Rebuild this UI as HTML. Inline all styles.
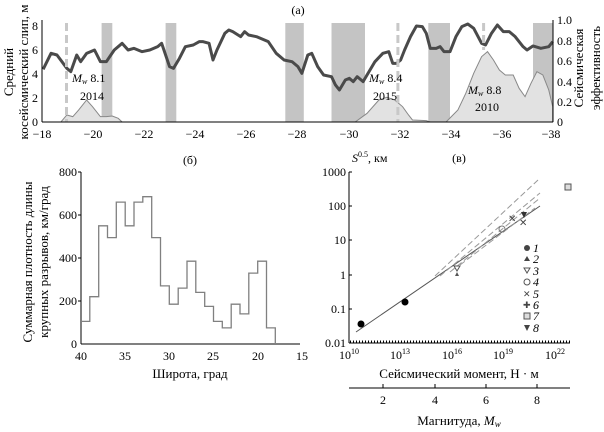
<!DOCTYPE html>
<html><head><meta charset="utf-8"><style>
body{margin:0;background:#fff}
svg{display:block;font-family:"Liberation Serif","DejaVu Serif",serif;}
</style></head><body>
<svg width="604" height="432" viewBox="0 0 604 432" xmlns="http://www.w3.org/2000/svg">
<!-- panel a -->
<text x="298" y="14" font-size="12" text-anchor="middle">(а)</text>
<g fill="#c4c4c4">
<rect x="101.6" y="23" width="10.7" height="99"/>
<rect x="165.6" y="23" width="10.7" height="99"/>
<rect x="285.3" y="23" width="18.5" height="99"/>
<rect x="331.5" y="23" width="33.5" height="99"/>
<rect x="428.3" y="23" width="21.7" height="99"/>
<rect x="533" y="23" width="20" height="99"/>
</g>
<g transform="translate(-8.2,0) scale(0.395,0.3333)">
<path fill="#e2e2e2" stroke="#888" stroke-width="1" vector-effect="non-scaling-stroke" d="M175,366 L190,345 205,350 220,330 240,300 255,320 275,350 290,350 305,348 320,355 330,366 Z M920,366 L950,340 980,300 1000,292 1020,300 1040,320 1055,345 1065,360 1100,362 1110,366Z M1150,366 L1180,330 1200,280 1220,220 1240,170 1255,155 1270,180 1285,210 1300,225 1320,225 1335,265 1350,290 1365,250 1380,215 1395,225 1410,270 1420,320 1420,366Z"/>
<path fill="none" stroke="#4a4a4a" stroke-width="3" vector-effect="non-scaling-stroke" stroke-linejoin="round" d="M130,208 L150,160 165,165 190,205 200,215 215,165 225,185 240,160 260,150 275,185 290,185 310,150 330,130 345,150 360,145 380,155 400,150 420,140 430,130 450,200 460,205 475,175 490,140 510,135 525,125 535,125 550,130 560,180 570,150 590,100 600,90 610,95 630,110 640,95 650,105 670,110 700,125 720,160 740,180 760,185 775,200 785,220 800,165 810,160 825,200 840,225 860,230 870,255 880,270 895,240 905,235 915,245 925,230 940,245 955,215 970,185 990,160 1005,155 1015,190 1025,190 1035,180 1045,150 1060,110 1075,78 1090,80 1100,100 1110,145 1125,145 1135,140 1145,155 1160,155 1175,110 1190,80 1205,72 1220,85 1240,130 1250,135 1265,100 1280,75 1295,95 1310,95 1325,110 1345,140 1355,150 1370,138 1390,145 1410,140 1420,125"/>
</g>
<g stroke="#c8c8c8" stroke-width="3" stroke-dasharray="8,4"><line x1="66.5" y1="23" x2="66.5" y2="122"/><line x1="397.9" y1="23" x2="397.9" y2="122"/><line x1="483.6" y1="23" x2="483.6" y2="50"/></g>
<g stroke="#000" stroke-width="1" fill="none">
<line x1="42" y1="122" x2="553" y2="122"/>
<line x1="42" y1="20" x2="42" y2="122"/>
<line x1="553" y1="20" x2="553" y2="122"/>
</g>
<g font-size="12" text-anchor="middle">
<text x="42" y="138">−18</text><text x="93" y="138">−20</text><text x="144" y="138">−22</text><text x="195" y="138">−24</text><text x="246" y="138">−26</text><text x="297" y="138">−28</text><text x="349" y="138">−30</text><text x="400" y="138">−32</text><text x="451" y="138">−34</text><text x="502" y="138">−36</text><text x="551" y="138">−38</text>
</g>
<g font-size="12" text-anchor="end"><text x="38" y="126">0</text><text x="38" y="102">2</text><text x="38" y="78">4</text><text x="38" y="54">6</text><text x="38" y="30">8</text></g>
<g font-size="12"><text x="557" y="126">0</text><text x="557" y="106">0.2</text><text x="557" y="86">0.4</text><text x="557" y="65">0.6</text><text x="557" y="45">0.8</text><text x="557" y="24">1.0</text></g>
<text transform="translate(13,72) rotate(-90)" font-size="13" text-anchor="middle">Средний</text>
<text transform="translate(28,72) rotate(-90)" font-size="13" text-anchor="middle">косейсмический слип, м</text>
<text transform="translate(583,68) rotate(-90)" font-size="13" text-anchor="middle">Сейсмическая</text>
<text transform="translate(600,68) rotate(-90)" font-size="13" text-anchor="middle">эффективность</text>
<g font-size="12"><text x="72" y="82"><tspan font-style="italic">M<tspan font-size="8" dy="2">w</tspan></tspan><tspan dy="-2"> 8.1</tspan></text><text x="80" y="100">2014</text>
<text x="369" y="82"><tspan font-style="italic">M<tspan font-size="8" dy="2">w</tspan></tspan><tspan dy="-2"> 8.4</tspan></text><text x="373" y="100">2015</text>
<text x="468" y="94"><tspan font-style="italic">M<tspan font-size="8" dy="2">w</tspan></tspan><tspan dy="-2"> 8.8</tspan></text><text x="475" y="111">2010</text></g>

<!-- panel b -->
<text x="190" y="164" font-size="12" text-anchor="middle">(б)</text>
<g stroke="#000" fill="none"><line x1="81" y1="172" x2="81" y2="344"/><line x1="81" y1="344" x2="300" y2="344"/>
<line x1="78" y1="172" x2="81" y2="172"/><line x1="78" y1="215" x2="81" y2="215"/><line x1="78" y1="258" x2="81" y2="258"/><line x1="78" y1="301" x2="81" y2="301"/></g>
<g font-size="12" text-anchor="end"><text x="77" y="176">800</text><text x="77" y="219">600</text><text x="77" y="262">400</text><text x="77" y="305">200</text><text x="77" y="348">0</text></g>
<g font-size="12" text-anchor="middle"><text x="81" y="360">40</text><text x="125" y="360">35</text><text x="169" y="360">30</text><text x="213" y="360">25</text><text x="258" y="360">20</text><text x="302" y="360">15</text></g>
<text x="190" y="378" font-size="13" text-anchor="middle">Широта, град</text>
<text transform="translate(32,262) rotate(-90)" font-size="13" text-anchor="middle">Суммарная плотность длины</text>
<text transform="translate(48,262) rotate(-90)" font-size="13" text-anchor="middle">крупных разрывов, км/град</text>
<path fill="none" stroke="#808080" stroke-width="1.3" d="M81,321.4 L89.8,321.4 89.8,296.7 98.7,296.7 98.7,225.8 107.5,225.8 107.5,237.6 116.3,237.6 116.3,202.1 125.2,202.1 125.2,225.8 134,225.8 134,202.1 142.8,202.1 142.8,196.7 151.7,196.7 151.7,237.6 160.5,237.6 160.5,285.9 169.3,285.9 169.3,304.2 178.2,304.2 178.2,288.1 187,288.1 187,261.2 195.8,261.2 195.8,292.4 204.7,292.4 204.7,306.4 213.5,306.4 213.5,321.4 222.3,321.4 222.3,327.9 231.2,327.9 231.2,304.2 240,304.2 240,313.9 248.8,313.9 248.8,273.1 257.7,273.1 257.7,261.2 266.5,261.2 266.5,327.9 275.3,327.9 275.3,344"/>

<!-- panel c -->
<text x="459" y="162" font-size="12" text-anchor="middle">(в)</text>
<text x="352" y="162" font-size="12"><tspan font-style="italic">S</tspan><tspan font-size="8" dy="-5">0.5</tspan><tspan dy="5">, км</tspan></text>
<g stroke="#000" fill="none"><line x1="349" y1="172" x2="349" y2="343"/><line x1="349" y1="343" x2="570" y2="343"/>
<line x1="349" y1="388" x2="570" y2="388"/>
<path d="M349,172h3M349,206h3M349,240h3M349,275h3M349,309h3"/>
<path d="M383,388v-4M435,388v-4M486,388v-4M537,388v-4"/></g>
<path stroke="#000" stroke-width="3" stroke-dasharray="1,2" d="M350,342 L570,342"/>
<g font-size="12" text-anchor="end"><text x="346" y="176">1000</text><text x="346" y="210">100</text><text x="346" y="244">10</text><text x="346" y="279">1</text><text x="346" y="313">0.1</text><text x="346" y="347">0.01</text></g>
<g font-size="12" text-anchor="middle"><text x="349" y="359">10<tspan font-size="8" dy="-5">10</tspan></text><text x="400" y="359">10<tspan font-size="8" dy="-5">13</tspan></text><text x="452" y="359">10<tspan font-size="8" dy="-5">16</tspan></text><text x="503" y="359">10<tspan font-size="8" dy="-5">19</tspan></text><text x="555" y="359">10<tspan font-size="8" dy="-5">22</tspan></text></g>
<text x="459" y="378" font-size="13" text-anchor="middle">Сейсмический момент, Н · м</text>
<g font-size="12" text-anchor="middle"><text x="383" y="404">2</text><text x="435" y="404">4</text><text x="486" y="404">6</text><text x="537" y="404">8</text></g>
<text x="459" y="425" font-size="13" text-anchor="middle">Магнитуда, <tspan font-style="italic">M<tspan font-size="9" dy="2">w</tspan></tspan></text>
<line x1="356" y1="332" x2="540" y2="206" stroke="#555" stroke-width="1"/>
<g stroke="#999" stroke-dasharray="6,3" fill="none"><path d="M435,276 L538,180"/><path d="M440,276 L540,193"/><path d="M450,272 L540,198"/><path d="M460,265 L535,208"/></g>
<circle cx="361" cy="324" r="3.5"/><circle cx="405" cy="302" r="3.5"/>
<path d="M457,272 l2,4h-4z" fill="#555"/><path d="M454,266h6l-3,5z" fill="none" stroke="#555"/><circle cx="502" cy="229" r="3" fill="none" stroke="#777"/>
<text x="508" y="222" font-size="10" fill="#444">✕</text><text x="519" y="226" font-size="10" fill="#444">✕</text>
<path d="M521,212 l6,0 -3,6z" fill="#333"/>
<rect x="565" y="184" width="6" height="6" fill="#ddd" stroke="#555"/>
<g font-size="12" font-style="italic"><text x="533" y="252">1</text><text x="533" y="263">2</text><text x="533" y="275">3</text><text x="533" y="286">4</text><text x="533" y="298">5</text><text x="533" y="309">6</text><text x="533" y="320">7</text><text x="533" y="332">8</text></g>
<g fill="#444" font-size="9"><circle cx="527" cy="248" r="3"/><path d="M527,256 l3,5h-6z"/><path d="M524,268h6l-3,5z" fill="none" stroke="#555"/><circle cx="527" cy="282" r="3" fill="none" stroke="#555"/><text x="523" y="297">✕</text><text x="523" y="308">✚</text><rect x="524" y="313" width="6" height="6" fill="#ddd" stroke="#555"/><path d="M524,325h6l-3,6z"/></g>
</svg>
</body></html>
